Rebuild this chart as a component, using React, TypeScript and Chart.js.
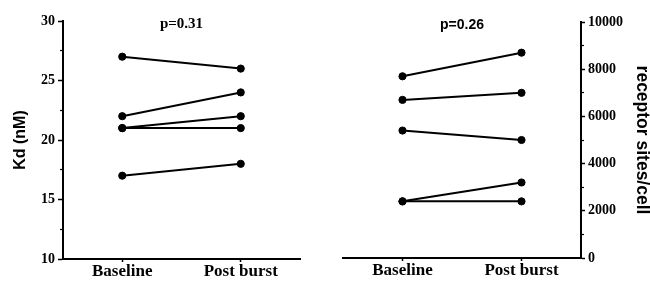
import React, { useEffect, useRef } from 'react';
import { Chart, registerables } from 'chart.js';

Chart.register(...registerables);

// ---- data ----
const xLabels = ['Baseline', 'Post burst'];
const kdBaseline = [27, 22, 21, 21, 17];
const kdPost = [26, 24, 22, 21, 18];
const sitesBaseline = [7700, 6700, 5400, 2400, 2400];
const sitesPost = [8700, 7000, 5000, 3200, 2400];
const kdTicks = [10, 15, 20, 25, 30];
const kdMinorTicks = [12.5, 17.5, 22.5, 27.5];
const sitesTicks = [0, 2000, 4000, 6000, 8000, 10000];
const sitesMinorTicks = [1000, 3000, 5000, 7000, 9000];
const kdTitle = 'Kd (nM)';
const sitesTitle = 'receptor sites/cell';
const pLeft = 'p=0.31';
const pRight = 'p=0.26';

const SERIF = "'Liberation Serif', 'Times New Roman', serif";
const SANS = "'Liberation Sans', Arial, sans-serif";

type PanelCfg = {
  baseline: number[];
  post: number[];
  min: number;
  max: number;
  ticks: number[];
  minor: number[];
  side: 'left' | 'right';
  title: string;
  pText: string;
  pFont: string;
  pY: number;
};

function buildConfig(p: PanelCfg): any {
  const datasets = p.baseline.map((b, i) => ({
    data: [
      { x: 1, y: b },
      { x: 3, y: p.post[i] },
    ],
    borderColor: '#000',
    backgroundColor: '#000',
    borderWidth: 2,
    pointRadius: 3.6,
    pointBorderWidth: 1,
    pointBackgroundColor: '#000',
    pointBorderColor: '#000',
    showLine: true,
    tension: 0,
  }));

  const isLeft = p.side === 'left';

  const pPlugin = {
    id: 'pText',
    afterDraw(chart: any) {
      const { ctx } = chart;
      const x = chart.scales.x;
      const cx = (x.getPixelForValue(1) + x.getPixelForValue(3)) / 2;
      ctx.save();
      ctx.font = p.pFont;
      ctx.fillStyle = '#000';
      ctx.textAlign = 'center';
      ctx.textBaseline = 'alphabetic';
      ctx.fillText(p.pText, cx, p.pY);
      ctx.restore();
    },
  };

  return {
    type: 'scatter',
    data: { datasets },
    plugins: [pPlugin],
    options: {
      responsive: false,
      animation: false,
      devicePixelRatio: 1,
      layout: {
        padding: isLeft
          ? { left: 0, top: 21, right: 25, bottom: 0 }
          : { left: 18, top: 22, right: 0, bottom: 0 },
      },
      plugins: {
        legend: { display: false },
        tooltip: { enabled: false },
      },
      scales: {
        x: {
          type: 'linear',
          min: 0,
          max: 4,
          afterBuildTicks: (s: any) => {
            s.ticks = [{ value: 1 }, { value: 3 }];
          },
          afterFit: (s: any) => {
            s.height = isLeft ? 27 : 28;
          },
          ticks: {
            color: '#000',
            font: { family: SERIF, size: 17, weight: 'bold' },
            padding: -1,
            maxRotation: 0,
            autoSkip: false,
            callback: (v: number) => (v === 1 ? xLabels[0] : v === 3 ? xLabels[1] : ''),
          },
          grid: {
            drawOnChartArea: false,
            drawTicks: true,
            tickLength: 3,
            tickColor: '#000',
            tickWidth: 1.5,
          },
          border: { display: true, color: '#000', width: 2 },
        },
        y: {
          type: 'linear',
          position: p.side,
          weight: 1,
          min: p.min,
          max: p.max,
          afterBuildTicks: (s: any) => {
            s.ticks = p.ticks.map((v) => ({ value: v }));
          },
          afterFit: (s: any) => {
            s.width = isLeft ? 63 : 69;
          },
          ticks: {
            color: '#000',
            font: { family: SERIF, size: 14, weight: 'bold' },
            padding: 3,
            autoSkip: false,
            callback: (v: number) => String(v),
          },
          grid: {
            drawOnChartArea: false,
            drawTicks: true,
            tickLength: isLeft ? 5 : 4,
            tickColor: '#000',
            tickWidth: 1.5,
          },
          border: { display: true, color: '#000', width: 2 },
          title: {
            display: true,
            text: p.title,
            color: '#000',
            font: isLeft
              ? { family: SANS, size: 16, weight: 'bold', lineHeight: 1.2 }
              : { family: SANS, size: 17.5, weight: 'bold', lineHeight: 1 },
            padding: isLeft ? { top: 11.4, bottom: 0 } : { top: -1, bottom: 0 },
          },
        },
        yMinor: {
          type: 'linear',
          position: p.side,
          weight: 0,
          min: p.min,
          max: p.max,
          afterBuildTicks: (s: any) => {
            s.ticks = p.minor.map((v) => ({ value: v }));
          },
          afterFit: (s: any) => {
            s.width = 0;
          },
          ticks: { display: false },
          grid: {
            drawOnChartArea: false,
            drawTicks: true,
            tickLength: 3,
            tickColor: '#000',
            tickWidth: 1.2,
          },
          border: { display: false },
        },
      },
    },
  };
}

function Panel({ cfg, left }: { cfg: PanelCfg; left: number }) {
  const ref = useRef<HTMLCanvasElement | null>(null);
  useEffect(() => {
    if (!ref.current) return;
    const chart = new Chart(ref.current, buildConfig(cfg));
    return () => chart.destroy();
  }, []);
  return (
    <div style={{ position: 'absolute', left, top: 0, width: 325, height: 286 }}>
      <canvas ref={ref} width={325} height={286} style={{ display: 'block', width: 325, height: 286 }} />
    </div>
  );
}

export default function App() {
  const leftCfg: PanelCfg = {
    baseline: kdBaseline,
    post: kdPost,
    min: 10,
    max: 30,
    ticks: kdTicks,
    minor: kdMinorTicks,
    side: 'left',
    title: kdTitle,
    pText: pLeft,
    pFont: `bold 15px ${SERIF}`,
    pY: 28,
  };
  const rightCfg: PanelCfg = {
    baseline: sitesBaseline,
    post: sitesPost,
    min: 0,
    max: 10000,
    ticks: sitesTicks,
    minor: sitesMinorTicks,
    side: 'right',
    title: sitesTitle,
    pText: pRight,
    pFont: `bold 14px ${SANS}`,
    pY: 29,
  };
  return (
    <div style={{ position: 'absolute', left: 0, top: 0, width: 650, height: 286, background: '#fff' }}>
      <Panel cfg={leftCfg} left={0} />
      <Panel cfg={rightCfg} left={325} />
    </div>
  );
}
